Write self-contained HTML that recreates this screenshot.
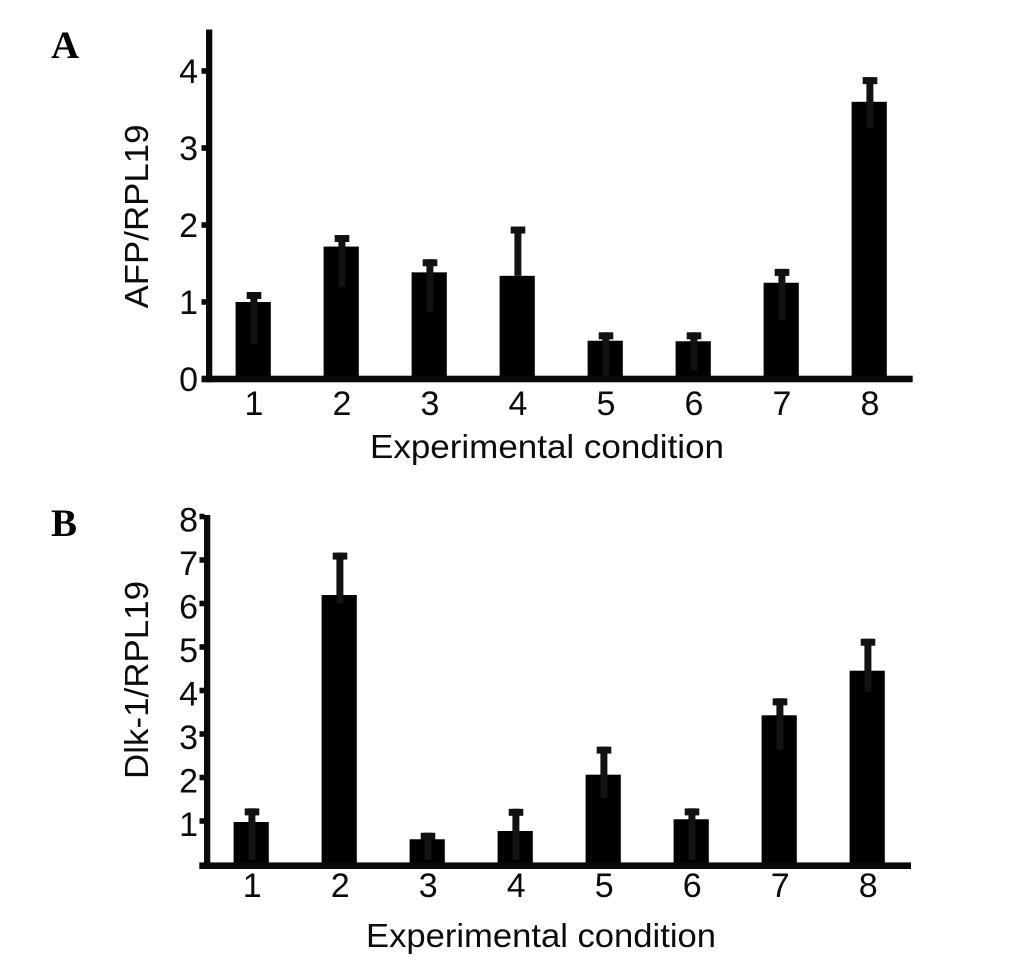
<!DOCTYPE html>
<html>
<head>
<meta charset="utf-8">
<style>
html,body{margin:0;padding:0;background:#fff;width:1033px;height:975px;overflow:hidden}
svg{display:block}
text{font-family:"Liberation Sans",sans-serif;fill:#0c0c0c}
.panel{font-family:"Liberation Serif",serif;font-weight:bold;font-size:39px;fill:#000}
</style>
</head>
<body>
<svg id="chart" xmlns="http://www.w3.org/2000/svg" width="1033" height="975" viewBox="0 0 1033 975">
<rect width="1033" height="975" fill="#fff"/>
<text class="panel" x="51" y="58">A</text>
<text class="panel" x="51" y="536">B</text>
</svg>
<script>
const categories = ['1','2','3','4','5','6','7','8'];

const afpValues  = [1.00,1.72,1.385,1.34,0.497,0.49,1.25,3.60];
const afpErrHigh = [1.13,1.87,1.555,1.98,0.606,0.606,1.43,3.92];
const afpErrLow  = [0.455,1.19,0.875,1.34,0.04,0.117,0.766,3.26];
const afpTicks   = [0,1,2,3,4];

const dlkValues  = [0.977,6.195,0.58,0.77,2.065,1.04,3.43,4.455];
const dlkErrHigh = [1.29,7.17,0.73,1.28,2.71,1.29,3.82,5.19];
const dlkErrLow  = [0.10,6.00,0.10,0.10,1.53,0.10,2.64,3.97];
const dlkTicks   = [1,2,3,4,5,6,7,8];

const svg = document.getElementById('chart');
const NS = 'http://www.w3.org/2000/svg';

function rect(parent, x, y, w, h, fill) {
  const r = document.createElementNS(NS, 'rect');
  r.setAttribute('x', x);
  r.setAttribute('y', y);
  r.setAttribute('width', w);
  r.setAttribute('height', h);
  r.setAttribute('fill', fill);
  parent.appendChild(r);
  return r;
}

function label(parent, x, y, str, size, anchor) {
  const t = document.createElementNS(NS, 'text');
  t.setAttribute('x', x);
  t.setAttribute('y', y);
  t.setAttribute('font-size', size);
  t.setAttribute('text-anchor', anchor);
  t.textContent = str;
  parent.appendChild(t);
  return t;
}

function drawPanel(p) {
  const xScale = i => p.x0 + p.step * i;
  const yScale = v => p.zero - p.unit * v;

  const g = document.createElementNS(NS, 'g');
  
  
  svg.appendChild(g);

  p.values.forEach((v, i) => {
    const cx = xScale(i);
    const bar = rect(g, cx - 17.6, yScale(v), 35.2, p.zero - yScale(v), '#000');
    
    

    const stem = rect(g, cx - 3.3 + p.errShift, yScale(p.high[i]), 7, yScale(p.low[i]) - yScale(p.high[i]), '#121212');
    
    

    const cap = rect(g, cx - 7 + p.errShift, yScale(p.high[i]), 14.6, 7, '#111');
    
    

    const tl = label(g, cx + p.catShift, p.catBase, categories[i], 34, 'middle');
    
    
  });

  const yAxis = rect(g, p.axisX, p.axisTop, 6.3, p.axisBottom - p.axisTop, '#0a0a0a');
  
  

  const xAxis = rect(g, p.xStart, p.axisBottom - 6.6, p.xEnd - p.xStart, 6.6, '#0a0a0a');
  
  

  p.ticks.forEach(t => {
    const mark = rect(g, p.axisX - 4.5, yScale(t) - 2.8, 5, 5.6, '#0a0a0a');
    
    

    const tl = label(g, 198, yScale(t) + p.tickBase, String(t), 34, 'end');
    
    
  });

  const xt = label(g, p.xTitleX, p.xTitleY, 'Experimental condition', 33, 'middle');
  xt.setAttribute('textLength', p.xTitleLen);
  xt.setAttribute('lengthAdjust', 'spacingAndGlyphs');
  
  

  const yt = label(g, 0, 0, p.yTitle, 33, 'middle');
  yt.setAttribute('transform', 'translate(148,' + p.yTitleY + ') rotate(-90)');
  yt.setAttribute('textLength', p.yTitleLen);
  yt.setAttribute('lengthAdjust', 'spacingAndGlyphs');
  
  
}

drawPanel({
  name: 'afp', values: afpValues, high: afpErrHigh, low: afpErrLow, ticks: afpTicks,
  x0: 253.2, step: 88, zero: 379, unit: 77, errShift: 0.5, catShift: 0.8, catBase: 415,
  axisX: 206, axisTop: 29.5, axisBottom: 382.3, xStart: 201.7, xEnd: 912.7, tickBase: 12,
  xTitleX: 547, xTitleY: 458, xTitleLen: 354, yTitle: 'AFP/RPL19', yTitleY: 216.5, yTitleLen: 184
});

drawPanel({
  name: 'dlk', values: dlkValues, high: dlkErrHigh, low: dlkErrLow, ticks: dlkTicks,
  x0: 251.2, step: 88, zero: 864.5, unit: 43.5, errShift: 0.5, catShift: 1, catBase: 897,
  axisX: 204, axisTop: 515, axisBottom: 869, xStart: 199.3, xEnd: 911, tickBase: 15,
  xTitleX: 541, xTitleY: 947, xTitleLen: 350, yTitle: 'Dlk-1/RPL19', yTitleY: 680, yTitleLen: 198
});
</script>
</body>
</html>
